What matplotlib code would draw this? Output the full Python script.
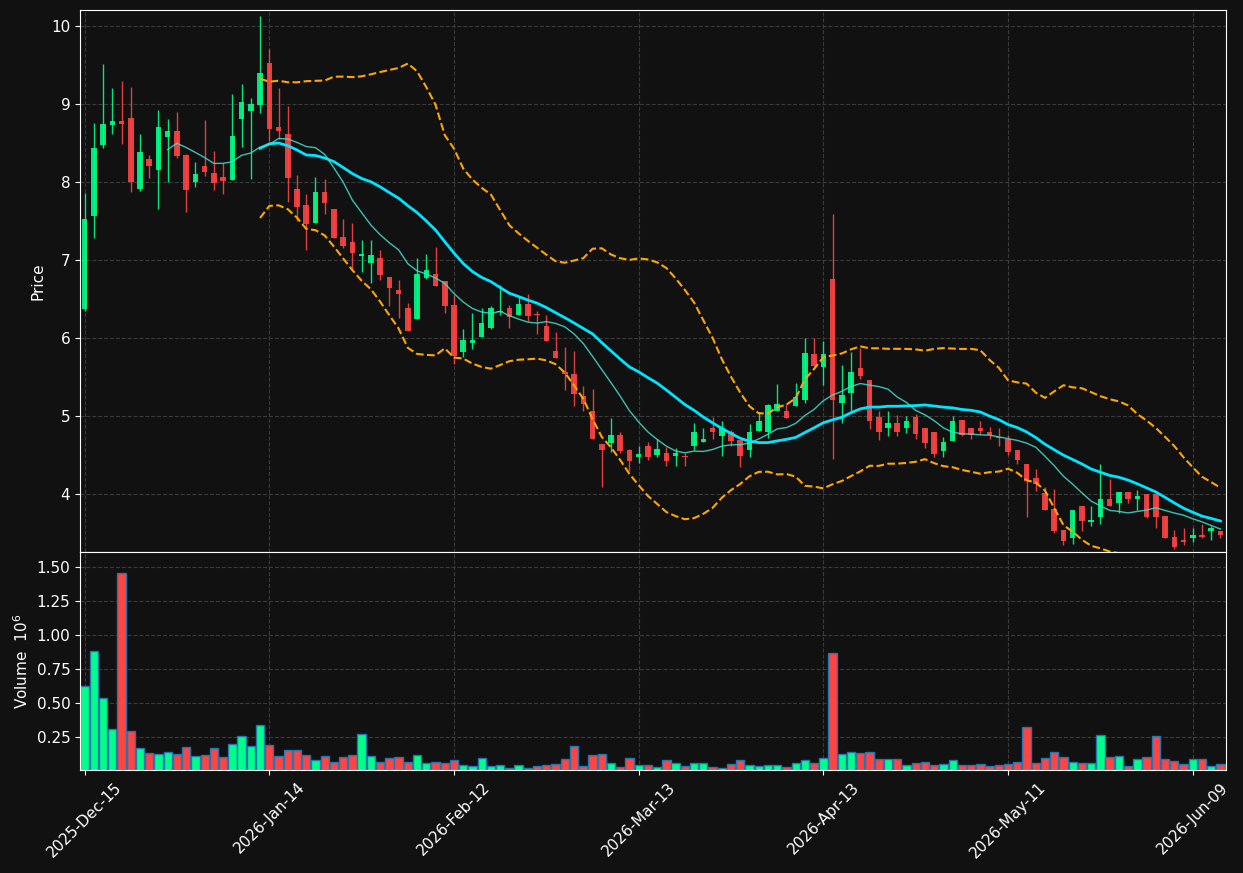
import matplotlib
matplotlib.use("Agg")
import matplotlib.pyplot as plt
import numpy as np
import pandas as pd

# trading days (NYSE holidays skipped)
holidays = ['2025-12-25', '2026-01-01', '2026-01-19', '2026-02-16', '2026-04-03', '2026-05-25']

opens = [6.37, 7.56, 8.47, 8.73, 8.78, 8.82, 7.91, 8.30, 8.15, 8.58,
         8.65, 8.35, 8.00, 8.20, 8.12, 8.06, 8.02, 8.81, 8.91, 8.99,
         9.53, 8.70, 8.62, 7.91, 7.71, 7.47, 7.87, 7.66, 7.30, 7.23,
         7.05, 6.96, 7.03, 6.78, 6.62, 6.39, 6.24, 6.77, 6.82, 6.73,
         6.42, 5.82, 5.94, 6.01, 6.13, 6.33, 6.38, 6.29, 6.43, 6.30,
         6.15, 5.83, 5.56, 5.54, 5.25, 5.07, 4.64, 4.65, 4.75, 4.56,
         4.47, 4.62, 4.50, 4.52, 4.49, 4.48, 4.62, 4.67, 4.84, 4.74,
         4.79, 4.69, 4.57, 4.81, 4.79, 5.06, 5.06, 5.13, 5.21, 5.79,
         5.63, 6.76, 5.16, 5.30, 5.61, 5.46, 4.99, 4.84, 4.91, 4.84,
         4.99, 4.84, 4.79, 4.55, 4.68, 4.95, 4.85, 4.84, 4.80, 4.73,
         4.70, 4.56, 4.38, 4.21, 4.01, 3.81, 3.54, 3.44, 3.84, 3.64,
         3.70, 3.94, 3.88, 4.03, 3.93, 4.00, 4.00, 3.72, 3.45, 3.41,
         3.43, 3.48, 3.53, 3.53]
highs = [7.86, 8.75, 9.51, 9.20, 9.29, 9.22, 8.61, 8.35, 8.92, 8.81,
         8.90, 8.36, 8.26, 8.80, 8.40, 8.24, 9.13, 9.25, 9.08, 10.13,
         9.70, 9.21, 8.97, 8.09, 7.84, 8.06, 8.04, 7.66, 7.52, 7.47,
         7.25, 7.25, 7.13, 6.78, 6.74, 6.45, 7.03, 7.08, 7.17, 6.73,
         6.55, 6.12, 6.32, 6.39, 6.41, 6.68, 6.42, 6.53, 6.57, 6.35,
         6.30, 6.08, 5.88, 5.83, 5.38, 5.35, 4.64, 4.97, 4.79, 4.58,
         4.62, 4.67, 4.70, 4.60, 4.59, 4.52, 4.91, 4.84, 4.99, 4.93,
         4.82, 4.69, 4.90, 5.05, 5.15, 5.41, 5.15, 5.42, 6.00, 6.00,
         5.96, 7.59, 5.65, 5.82, 5.87, 5.46, 5.06, 5.06, 5.01, 5.00,
         5.03, 4.84, 4.79, 4.73, 5.00, 4.95, 4.85, 4.94, 4.86, 4.84,
         4.75, 4.56, 4.38, 4.32, 4.09, 4.06, 3.54, 3.79, 3.84, 3.85,
         4.39, 4.19, 4.02, 4.03, 4.05, 4.00, 4.00, 3.72, 3.54, 3.57,
         3.56, 3.62, 3.59, 3.53]
lows = [6.35, 7.28, 8.44, 8.61, 8.49, 7.87, 7.89, 8.05, 7.66, 8.00,
        8.31, 7.61, 7.93, 8.08, 7.90, 7.84, 8.02, 8.45, 8.04, 8.89,
        8.52, 8.55, 7.74, 7.50, 7.13, 7.47, 7.59, 7.28, 7.15, 6.87,
        6.84, 6.70, 6.74, 6.41, 6.25, 6.09, 6.24, 6.75, 6.67, 6.32,
        5.67, 5.76, 5.86, 6.01, 6.12, 6.29, 6.13, 6.29, 6.22, 6.05,
        5.96, 5.74, 5.33, 5.13, 5.07, 4.71, 4.09, 4.54, 4.53, 4.30,
        4.40, 4.43, 4.47, 4.36, 4.36, 4.36, 4.56, 4.67, 4.71, 4.49,
        4.62, 4.34, 4.47, 4.81, 4.72, 5.06, 4.97, 5.13, 5.16, 5.64,
        5.40, 4.45, 4.91, 5.06, 5.47, 4.83, 4.69, 4.74, 4.74, 4.78,
        4.70, 4.59, 4.47, 4.47, 4.68, 4.74, 4.71, 4.77, 4.70, 4.61,
        4.50, 4.39, 3.70, 4.04, 3.79, 3.50, 3.34, 3.36, 3.52, 3.59,
        3.62, 3.85, 3.76, 3.89, 3.79, 3.69, 3.56, 3.44, 3.29, 3.34,
        3.39, 3.44, 3.41, 3.44]
closes = [7.53, 8.44, 8.74, 8.78, 8.74, 8.00, 8.38, 8.20, 8.70, 8.65,
          8.33, 7.90, 8.10, 8.13, 7.99, 8.01, 8.59, 9.02, 9.00, 9.40,
          8.68, 8.65, 8.05, 7.68, 7.46, 7.87, 7.73, 7.28, 7.18, 7.09,
          7.08, 7.06, 6.81, 6.64, 6.56, 6.09, 6.82, 6.87, 6.67, 6.41,
          5.77, 5.97, 5.98, 6.19, 6.38, 6.35, 6.27, 6.43, 6.28, 6.29,
          5.96, 5.74, 5.54, 5.28, 5.15, 4.71, 4.57, 4.75, 4.55, 4.42,
          4.51, 4.47, 4.58, 4.42, 4.53, 4.47, 4.80, 4.70, 4.80, 4.85,
          4.68, 4.49, 4.79, 4.94, 5.14, 5.15, 4.97, 5.24, 5.81, 5.64,
          5.79, 5.21, 5.27, 5.57, 5.51, 4.94, 4.79, 4.91, 4.80, 4.94,
          4.77, 4.65, 4.51, 4.66, 4.94, 4.75, 4.75, 4.81, 4.76, 4.72,
          4.54, 4.43, 4.16, 4.13, 3.79, 3.53, 3.40, 3.79, 3.65, 3.66,
          3.94, 3.85, 4.02, 3.94, 3.98, 3.71, 3.70, 3.44, 3.32, 3.38,
          3.48, 3.45, 3.56, 3.48]
# volume in millions of shares
volumes = [0.625, 0.882, 0.537, 0.309, 1.456, 0.294, 0.169, 0.132, 0.125, 0.140,
           0.125, 0.176, 0.110, 0.118, 0.169, 0.103, 0.199, 0.257, 0.184, 0.338,
           0.191, 0.110, 0.154, 0.154, 0.118, 0.081, 0.110, 0.066, 0.103, 0.118,
           0.272, 0.110, 0.066, 0.096, 0.103, 0.066, 0.118, 0.059, 0.066, 0.059,
           0.081, 0.044, 0.037, 0.096, 0.037, 0.044, 0.022, 0.044, 0.022, 0.037,
           0.044, 0.051, 0.088, 0.184, 0.037, 0.118, 0.125, 0.059, 0.029, 0.096,
           0.044, 0.044, 0.029, 0.081, 0.059, 0.037, 0.059, 0.059, 0.029, 0.022,
           0.051, 0.081, 0.044, 0.037, 0.044, 0.044, 0.029, 0.059, 0.081, 0.059,
           0.096, 0.868, 0.125, 0.140, 0.132, 0.140, 0.088, 0.088, 0.088, 0.044,
           0.059, 0.066, 0.044, 0.051, 0.081, 0.044, 0.044, 0.051, 0.037, 0.044,
           0.051, 0.066, 0.324, 0.059, 0.096, 0.140, 0.103, 0.066, 0.059, 0.059,
           0.265, 0.103, 0.110, 0.037, 0.088, 0.103, 0.257, 0.088, 0.074, 0.051,
           0.088, 0.088, 0.037, 0.051]

dates = pd.bdate_range('2025-12-15', periods=len(closes), freq='C', holidays=holidays)
df = pd.DataFrame({'Open': opens, 'High': highs, 'Low': lows, 'Close': closes,
                   'Volume': volumes}, index=dates)

df['ma10'] = df['Close'].rolling(10).mean()
df['ma20'] = df['Close'].rolling(20).mean()
std20 = df['Close'].rolling(20).std(ddof=0)
df['upper'] = df['ma20'] + 2 * std20
df['lower'] = df['ma20'] - 2 * std20

up_col = '#00ff88'
down_col = '#ff4444'
bg = '#111111'

x = np.arange(len(df))
o = df['Open'].values
c = df['Close'].values
is_up = c >= o
colors = np.where(is_up, up_col, down_col)

fig = plt.figure(figsize=(12.43, 8.73), dpi=100, facecolor=bg)
ax = fig.add_axes([80 / 1243, 1 - 552 / 873, 1146 / 1243, 542 / 873])
axv = fig.add_axes([80 / 1243, 1 - 770 / 873, 1146 / 1243, 218 / 873], sharex=ax)

for a in (ax, axv):
    a.set_facecolor(bg)
    for s in a.spines.values():
        s.set_color('white')
    a.tick_params(colors='white', labelsize=11)
    a.grid(True, color='#3a3a3a', linestyle='--', linewidth=0.8)
    a.set_axisbelow(True)

# candles
body_bottom = np.minimum(o, c)
body_height = np.maximum(np.abs(c - o), 0.012)
ax.vlines(x, df['Low'], df['High'], colors=colors, linewidth=1, alpha=0.9, zorder=2)
ax.bar(x, body_height, bottom=body_bottom, width=0.6, color=colors, alpha=0.9,
       linewidth=0, zorder=3)

# indicators
ax.plot(x, df['ma20'], color='#00e5ff', linewidth=2, zorder=4)
ax.plot(x, df['ma10'], color='#40e0d0', linewidth=1, alpha=0.85, zorder=4)
ax.plot(x, df['upper'], color='#ffa500', linewidth=1.5, linestyle='--', zorder=4)
ax.plot(x, df['lower'], color='#ffa500', linewidth=1.5, linestyle='--', zorder=4)

ax.set_ylim(3.256, 10.205)
ax.set_yticks([4, 5, 6, 7, 8, 9, 10])
ax.set_ylabel('Price', color='white', fontsize=11)
plt.setp(ax.get_xticklabels(), visible=False)

# volume
axv.bar(x, df['Volume'], width=0.9, color=colors, edgecolor='#1f77b4', linewidth=1)
axv.set_ylim(0.007, 1.61)
axv.set_yticks([0.25, 0.5, 0.75, 1.0, 1.25, 1.5])
axv.set_ylabel('Volume  $10^{6}$', color='white', fontsize=11)

tick_pos = x[::20]
axv.set_xticks(tick_pos)
axv.set_xticklabels([d.strftime('%Y-%b-%d') for d in df.index[::20]],
                    rotation=45, ha='center')
axv.set_xlim(-0.5, 123.6)

fig.savefig('out.png', dpi=100, facecolor=bg)
